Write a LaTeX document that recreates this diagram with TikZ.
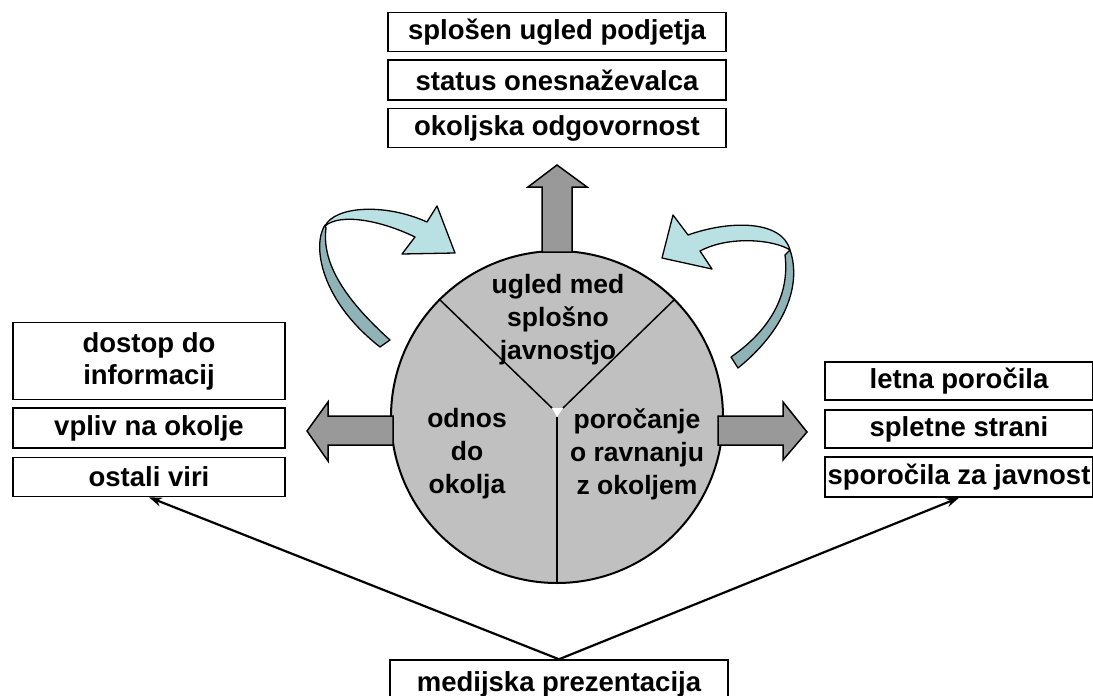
\documentclass[tikz,border=0pt]{standalone}
\usepackage{fontspec}
\setmainfont{Liberation Sans}
\usepackage{xcolor}
\definecolor{wheelgray}{HTML}{C0C0C0}
\definecolor{arrowgray}{HTML}{999999}
\definecolor{cyanlight}{HTML}{B9E0E3}
\definecolor{cyandark}{HTML}{8FB3B6}
\usetikzlibrary{arrows.meta}

\begin{document}
\begin{tikzpicture}[x=1pt, y=-1pt,
  every node/.style={font=\fontsize{26.5}{33}\selectfont\bfseries},
  box/.style={draw, line width=1.5pt, fill=white, inner sep=0pt, align=center, font=\fontsize{27.5}{32}\selectfont\bfseries},
  blockarrow/.style={draw, line width=1.5pt, fill=arrowgray, line join=miter},
  curlarrow/.style={draw, line width=1.3pt, line join=round},
  link/.style={line width=2.2pt, -{Stealth[length=13pt, width=9pt]}}]
  \useasboundingbox (0,0) rectangle (1093,696);

  % central wheel
  \node[draw, line width=2pt, circle, fill=wheelgray, minimum size=332pt, inner sep=0pt] (wheel) at (557,417) {};
  \coordinate (hubl) at (552,408);
  \coordinate (hubr) at (563,408);
  \coordinate (hubb) at (557,417);
  \draw[line width=1.5pt] (hubl) -- (wheel.135);
  \draw[line width=1.5pt] (hubr) -- (wheel.45);
  \draw[line width=1.5pt] (hubb) -- (wheel.south);
  \fill[white] (hubl) -- (hubr) -- (hubb) -- cycle;

  % block arrows out of the wheel
  \draw[blockarrow] (542,252) -- (542,187) -- (528,187) -- (557,165) -- (587,187) -- (572,187) -- (572,252) -- cycle;
  \draw[blockarrow] (393,416) -- (328,416) -- (328,402) -- (307,431) -- (328,461) -- (328,445) -- (393,445) -- cycle;
  \draw[blockarrow] (718,416) -- (783,416) -- (783,402) -- (807,432) -- (783,460) -- (783,445) -- (718,445) -- cycle;

  % bent arrows, left and right
  \draw[curlarrow, fill=cyandark] (325,225) .. controls (312,245) and (320,300) .. (380,347) -- (390,340) .. controls (340,295) and (322,260) .. (326,228) -- cycle;
  \draw[curlarrow, fill=cyanlight] (325,226) .. controls (335,206) and (385,203) .. (427,222) -- (437,206) -- (455,253) -- (402,254) -- (415,237) .. controls (380,220) and (340,213) .. (325,226) -- cycle;
  \draw[curlarrow, fill=cyandark] (790,250) .. controls (802,285) and (785,330) .. (738,368) -- (731,357) .. controls (770,330) and (790,295) .. (785,255) -- cycle;
  \draw[curlarrow, fill=cyanlight] (673,215) -- (688,235) .. controls (730,220) and (782,220) .. (790,250) .. controls (775,240) and (730,235) .. (700,251) -- (712,269) -- (662,258) -- cycle;

  % texts in the wheel
  \node[align=center] (javnost) at (558,320) {ugled med\\splošno\\javnostjo};
  \node[align=center] (odnos) at (467,454) {odnos\\do\\okolja};
  \node[align=center] (porocanje) at (637,454) {poročanje\\o ravnanju\\z okoljem};

  % top boxes
  \node[box, minimum width=338pt, minimum height=39pt] (ugled) at (557,32) {splošen ugled podjetja};
  \node[box, minimum width=338pt, minimum height=40pt] (status) at (557,80) {status onesnaževalca};
  \node[box, minimum width=338pt, minimum height=39pt] (odgovornost) at (557,128) {okoljska odgovornost};

  % left boxes
  \node[box, minimum width=272pt, minimum height=77pt] (dostop) at (149,361) {dostop do\\informacij};
  \node[box, minimum width=272pt, minimum height=40pt] (vpliv) at (149,428) {vpliv na okolje};
  \node[box, minimum width=272pt, minimum height=39pt] (viri) at (149,477) {ostali viri};

  % right boxes
  \node[box, minimum width=268pt, minimum height=38pt] (letna) at (959,381) {letna poročila};
  \node[box, minimum width=268pt, minimum height=38pt] (spletne) at (959,429) {spletne strani};
  \node[box, minimum width=268pt, minimum height=40pt] (sporocila) at (959,477) {sporočila za javnost};

  % bottom box
  \node[box, minimum width=338pt, minimum height=48pt] (media) at (559,684) {medijska prezentacija};

  % links from the bottom box
  \draw[link] (media.north) -- (viri.south);
  \draw[link] (media.north) -- (sporocila.south);
\end{tikzpicture}
\end{document}
